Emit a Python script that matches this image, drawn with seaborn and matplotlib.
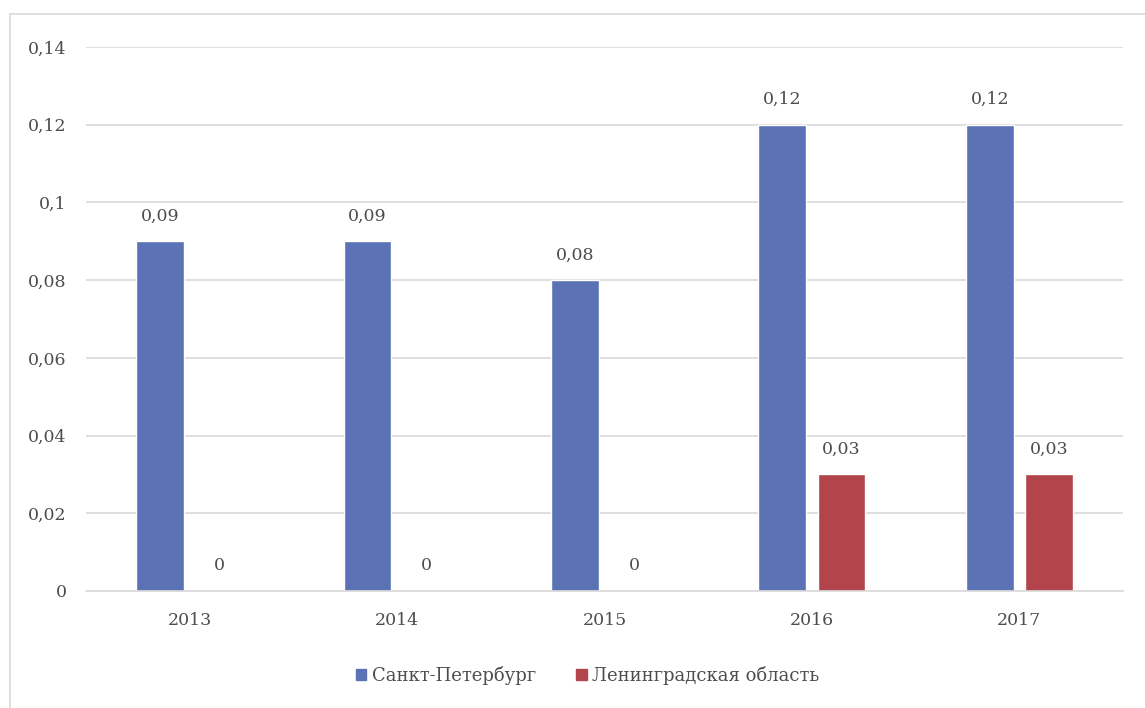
import matplotlib
matplotlib.use("Agg")
import matplotlib.pyplot as plt
from matplotlib.patches import Rectangle
import seaborn as sns
import pandas as pd

years = ["2013", "2014", "2015", "2016", "2017"]
series_names = ["Санкт-Петербург", "Ленинградская область"]
spb_values = [0.09, 0.09, 0.08, 0.12, 0.12]
lo_values = [0.0, 0.0, 0.0, 0.03, 0.03]
yticks = [0, 0.02, 0.04, 0.06, 0.08, 0.10, 0.12, 0.14]
colors = ["#5b73b5", "#b3444b"]

df = pd.DataFrame({
    "year": years * 2,
    "region": [series_names[0]] * len(years) + [series_names[1]] * len(years),
    "value": spb_values + lo_values,
})

sns.set_theme(style="white")
plt.rcParams["font.family"] = ["DejaVu Serif", "Liberation Serif"]

fig = plt.figure(figsize=(11.45, 7.08), dpi=100)
ax = fig.add_axes([0.0751, 0.1653, 0.9057, 0.7683])

sns.barplot(data=df, x="year", y="value", hue="region", order=years,
            hue_order=series_names, palette=colors, width=0.57, gap=0.19,
            saturation=1, ax=ax, legend=False)

def fmt(v):
    s = f"{v:.2f}".rstrip("0").rstrip(".")
    return s.replace(".", ",")

text_color = "#4d4d4d"

for container in ax.containers:
    labels = [fmt(b.get_height()) for b in container]
    ax.bar_label(container, labels=labels, padding=12, fontsize=12.5,
                 color=text_color)

ax.set_ylim(0, 0.14)
ax.set_xlim(-0.5, len(years) - 0.5)
ax.set_yticks(yticks)
ax.set_yticklabels([fmt(t) for t in yticks])
ax.yaxis.grid(True, color="#d9d9d9", linewidth=1.2)
ax.set_axisbelow(True)
for s in ["top", "right", "left"]:
    ax.spines[s].set_visible(False)
ax.spines["bottom"].set_color("#d9d9d9")
ax.spines["bottom"].set_linewidth(1.2)
ax.tick_params(axis="y", length=0, pad=14, labelsize=12.5, labelcolor=text_color)
ax.tick_params(axis="x", length=0, pad=15, labelsize=12.5, labelcolor=text_color)
ax.set_xlabel("")
ax.set_ylabel("")

handles = [Rectangle((0, 0), 1, 1, color=c) for c in colors]
fig.legend(handles, series_names, loc="center", bbox_to_anchor=(0.513, 0.046),
           ncol=2, frameon=False, fontsize=13, handlelength=0.6,
           handleheight=0.6, handletextpad=0.3, columnspacing=2.2,
           labelcolor=text_color)

# light frame around the chart area
fig.patches.append(Rectangle((10 / 1145, -0.1), 1.2, 1 - 14 / 708 + 0.1,
                             transform=fig.transFigure, fill=False,
                             edgecolor="#d9d9d9", linewidth=1.2))

fig.savefig("out.png", dpi=100)
